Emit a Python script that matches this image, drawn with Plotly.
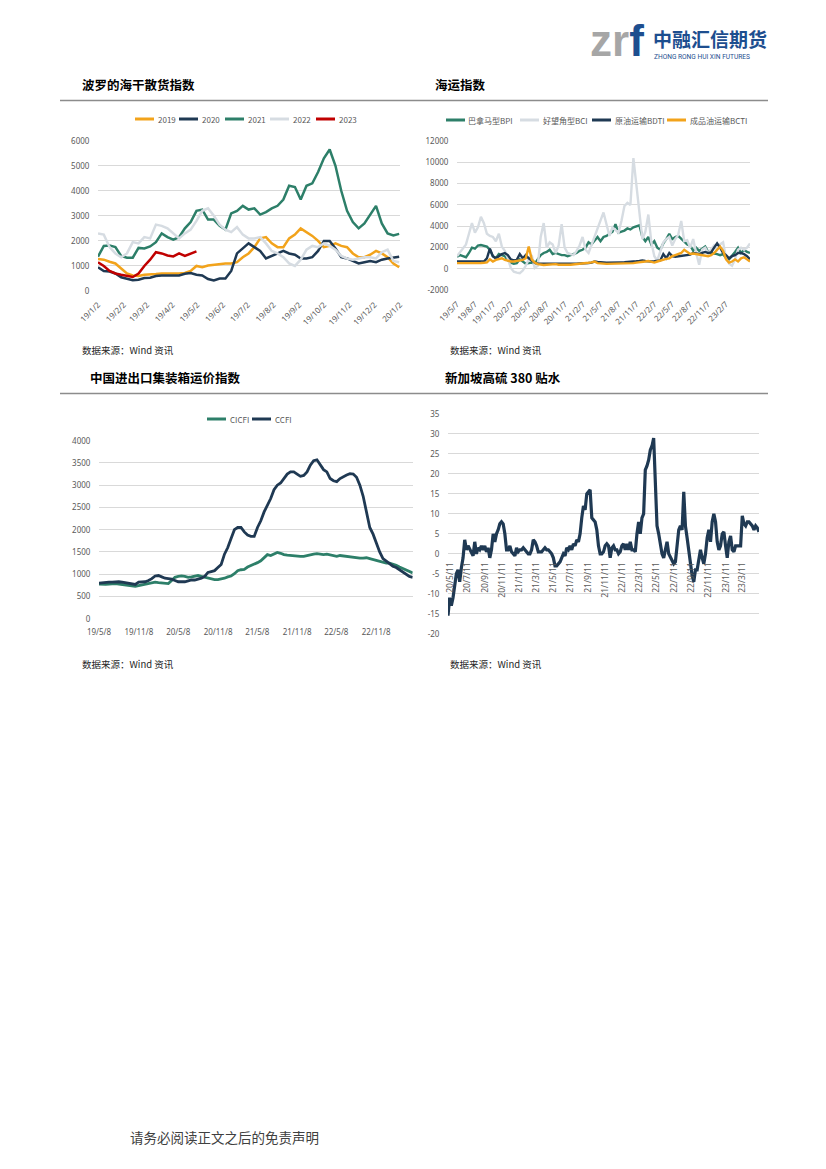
import pandas as pd
import plotly.graph_objects as go

W, H = 826, 1169

# ---------------- Chart 1: Baltic Dry Index, year overlay (weekly) ----------------
bdi_years = ["2019", "2020", "2021", "2022", "2023"]
bdi_week_start = "2019-01-02"
bdi_2019 = [1280, 1250, 1170, 1100, 900, 700, 620, 600, 650, 680, 680, 700, 700, 680, 700, 720, 800, 1000,
            950, 1020, 1050, 1080, 1100, 1100, 1150, 1350, 1500, 1750, 2100, 2150, 1900, 1750, 1750, 2100,
            2250, 2500, 2350, 2200, 2000, 1750, 1800, 1900, 1800, 1750, 1500, 1350, 1350, 1450, 1600, 1500,
            1350, 1100, 950]
bdi_2020 = [950, 800, 780, 700, 550, 480, 430, 450, 520, 530, 600, 620, 620, 600, 620, 690, 720, 650, 620,
            480, 420, 500, 500, 800, 1500, 1700, 1900, 1750, 1600, 1300, 1400, 1500, 1600, 1500, 1450, 1300,
            1300, 1350, 1600, 2000, 2000, 1700, 1350, 1300, 1200, 1100, 1150, 1200, 1150, 1250, 1300, 1350, 1370]
bdi_2021 = [1370, 1800, 1820, 1750, 1400, 1330, 1330, 1720, 1700, 1780, 1950, 2300, 2150, 2050, 2150, 2500,
            2750, 3200, 3250, 2850, 2850, 2600, 2450, 3100, 3200, 3400, 3250, 3300, 3050, 3150, 3300, 3400,
            3650, 4200, 4150, 3650, 4200, 4300, 4750, 5300, 5650, 5000, 4000, 3200, 2750, 2500, 2700, 3050,
            3400, 2700, 2300, 2220, 2280]
bdi_2022 = [2300, 2250, 1750, 1500, 1350, 1500, 1950, 1900, 2150, 2100, 2650, 2600, 2500, 2300, 2100, 2300,
            2450, 2800, 3200, 3300, 3000, 2650, 2450, 2350, 2550, 2250, 2100, 2100, 2150, 1900, 1600, 1500,
            1350, 1100, 1000, 1250, 1650, 1800, 1750, 1900, 1800, 1650, 1400, 1300, 1250, 1300, 1350, 1350,
            1300, 1550, 1650, 1200, 1150]
bdi_2023 = [1150, 1000, 800, 700, 650, 620, 560, 700, 1000, 1250, 1550, 1500, 1420, 1380, 1500, 1400, 1500, 1580]
bdi_ticks = ["19/1/2", "19/2/2", "19/3/2", "19/4/2", "19/5/2", "19/6/2", "19/7/2", "19/8/2", "19/9/2",
             "19/10/2", "19/11/2", "19/12/2", "20/1/2"]
bdi_yticks = ["0", "1000", "2000", "3000", "4000", "5000", "6000"]

# ---------------- Chart 2: Shipping indices (semi-monthly) ----------------
ship_names = ["巴拿马型BPI", "好望角型BCI", "原油运输BDTI", "成品油运输BCTI"]
ship_start = "2019-05-07"
bpi = [1150, 1300, 1200, 1100, 1500, 2000, 1900, 2200, 2250, 2200, 2100, 1800, 1200, 1000, 1400, 1300, 1200,
       800, 600, 500, 550, 900, 700, 500, 550, 600, 500, 900, 1300, 1500, 1600, 1800, 1400, 1500, 1400, 1300,
       1300, 1200, 1300, 1400, 1500, 1700, 1800, 2000, 2500, 2300, 2600, 3000, 2600, 3000, 3100, 3300, 3500,
       4200, 3400, 3500, 3600, 3800, 3700, 3900, 4000, 4100, 3000, 2600, 3000, 2300, 2600, 2000, 1800, 2400,
       2800, 3300, 2800, 3000, 3100, 2800, 2500, 2300, 2200, 1700, 2000, 1700, 1900, 2100, 1600, 1500, 1450,
       1400, 1300, 1400, 1000, 900, 1200, 1600, 2000, 1500, 1800, 1600, 1500]
bci = [1200, 1600, 1900, 2300, 3300, 4300, 3400, 3900, 4900, 4300, 3300, 3100, 3000, 2600, 3300, 2100, 1700,
       1000, 100, -250, -350, -400, -150, 300, 900, 1300, 100, 300, 3000, 4300, 2000, 2500, 2300, 1500, 2200,
       4200, 2000, 1500, 1400, 1300, 1700, 2200, 3000, 1800, 1500, 2300, 3000, 3700, 4500, 5300, 4200, 3100,
       3900, 3600, 3400, 4500, 5900, 6200, 6000, 10400, 8000, 5000, 2800, 3500, 5100, 2500, 1200, 800, 1600,
       2500, 2800, 3000, 2200, 2800, 3200, 4500, 2600, 2700, 2000, 2800, 1500, 400, 1800, 2000, 1500, 1900,
       2200, 1800, 2300, 2500, 1000, 500, 300, 900, 1800, 2000, 1800, 2000, 2400]
bdti = [700, 700, 700, 680, 650, 650, 650, 680, 700, 700, 1000, 1900, 1200, 1000, 1200, 1400, 1500, 1300, 900,
        800, 850, 1400, 1000, 1300, 1000, 800, 600, 500, 500, 480, 460, 450, 450, 440, 430, 440, 450, 450, 470,
        480, 500, 520, 520, 540, 560, 600, 700, 650, 600, 600, 580, 600, 600, 600, 610, 620, 630, 640, 650, 700,
        720, 750, 800, 750, 700, 700, 720, 750, 800, 1400, 1000, 1500, 1200, 1150, 1200, 1200, 1250, 1300, 1350,
        1500, 1450, 1400, 1500, 1600, 1500, 1550, 2000, 2400, 2000, 1500, 1300, 1000, 1200, 1300, 1500, 1500,
        1400, 1200, 900]
bcti = [550, 550, 520, 500, 500, 520, 550, 560, 560, 580, 620, 900, 700, 850, 950, 1000, 850, 750, 700, 700,
        750, 800, 850, 1000, 2100, 900, 600, 450, 400, 380, 400, 420, 480, 450, 400, 380, 380, 390, 400, 420,
        440, 460, 500, 530, 580, 620, 700, 550, 500, 500, 480, 480, 500, 500, 490, 480, 500, 500, 520, 550,
        600, 620, 650, 700, 750, 650, 600, 700, 800, 900, 950, 1000, 1200, 1300, 1400, 1500, 1800, 1600, 1400,
        1450, 1400, 1350, 1300, 1250, 1200, 1300, 1500, 1800, 2100, 1700, 900, 600, 700, 900, 700, 1000, 1100,
        900, 700]
ship_ticks = ["19/5/7", "19/8/7", "19/11/7", "20/2/7", "20/5/7", "20/8/7", "20/11/7", "21/2/7", "21/5/7",
              "21/8/7", "21/11/7", "22/2/7", "22/5/7", "22/8/7", "22/11/7", "23/2/7"]
ship_yticks = ["-2000", "0", "2000", "4000", "6000", "8000", "10000", "12000"]

# ---------------- Chart 3: China container freight indices (semi-monthly) ----------------
cont_names = ["CICFI", "CCFI"]
cont_start = "2019-05-08"
cicfi = [780, 770, 770, 780, 790, 790, 780, 770, 770, 760, 740, 730, 745, 760, 770, 780, 800, 820, 810, 800,
         790, 790, 860, 930, 950, 960, 950, 930, 940, 950, 970, 950, 930, 910, 890, 880, 880, 890, 910, 940,
         960, 1010, 1080, 1100, 1110, 1160, 1190, 1230, 1260, 1300, 1380, 1440, 1420, 1460, 1490, 1470, 1440,
         1430, 1420, 1420, 1410, 1400, 1400, 1420, 1430, 1450, 1460, 1450, 1440, 1450, 1430, 1410, 1400, 1420,
         1410, 1400, 1390, 1370, 1360, 1360, 1360, 1370, 1350, 1330, 1300, 1290, 1270, 1250, 1250, 1230, 1200,
         1160, 1130, 1100, 1060, 1030]
ccfi = [800, 810, 810, 820, 820, 830, 830, 820, 810, 800, 790, 770, 820, 830, 830, 860, 900, 960, 970, 940,
        910, 900, 890, 860, 830, 830, 830, 850, 870, 870, 890, 910, 950, 1040, 1060, 1080, 1150, 1220, 1450,
        1600, 1800, 2000, 2050, 2050, 1950, 1880, 1850, 1850, 2050, 2200, 2400, 2550, 2700, 2900, 3000, 3050,
        3150, 3250, 3300, 3300, 3250, 3200, 3220, 3300, 3450, 3550, 3570, 3450, 3350, 3300, 3150, 3100, 3080,
        3150, 3200, 3230, 3260, 3250, 3180, 3000, 2750, 2400, 2050, 1900, 1700, 1500, 1350, 1290, 1250, 1180,
        1150, 1100, 1040, 990, 950, 930]
cont_ticks = ["19/5/8", "19/11/8", "20/5/8", "20/11/8", "21/5/8", "21/11/8", "22/5/8", "22/11/8"]
cont_yticks = ["0", "500", "1000", "1500", "2000", "2500", "3000", "3500", "4000"]

# ---------------- Chart 4: Singapore HSFO 380 spread ----------------
hsfo_start = "2020-05-03"
hsfo_spread = [-15.5, -11, -13, -11, -8, -5, -4, -7, -3.5, -1,
               3.5, 1, 2, 1, 0, -0.5, 3, 0, 1.5, 1,
               2, 1, 2, 0.5, 1.5, -1, 1, 5, 3, 5,
               6, 7.5, 8, 7.5, 5, 1, 1, 2, 0.5, 0,
               -0.5, 1.5, 0.5, 1, 1, 1.5, 1, 0.5, 0, 0,
               1, 3.5, 3, 2, 0.5, 0.5, 0.5, 1, 1.5, 1,
               1, 0.5, 0, -1, -3, -3, -2.5, -2, -1, 0,
               -0.5, 1.5, 1, 2, 1, 2.5, 2, 3.5, 3, 5,
               9, 12, 11, 15, 15.5, 16, 9, 8.5, 8, 6,
               2, 0, 0, 0.5, 2, 2.5, 2, -1, 1.5, 2,
               1, 1, 0, 0.5, 2, 2.5, 1, 2.5, 1, 3,
               1, 1, 0.5, 5, 8, 5, 9, 10, 21, 22,
               23.5, 26, 27, 29, 20, 7, 5, 2, 0, -1,
               1, 3, 0, -1, -2, -2.5, -2, 3, 6, 7,
               6, 15.5, 7, 4, 1, -3, -5.5, -7, -4, -4,
               -1, 1, -1, -2.5, 0, 4, 6, 3, 8, 10,
               8, 3, 1, 2, 5, 5.5, 2, -1, 3, 4.5,
               1, 0.5, 2, 2, 2, 2, 9.5, 7.5, 7, 8,
               8, 7.5, 7, 6, 7, 6.5, 5.5]
hsfo_ticks = ["20/5/11", "20/7/11", "20/9/11", "20/11/11", "21/1/11", "21/3/11", "21/5/11", "21/7/11",
              "21/9/11", "21/11/11", "22/1/11", "22/3/11", "22/5/11", "22/7/11", "22/9/11", "22/11/11",
              "23/1/11", "23/3/11"]
hsfo_yticks = ["-20", "-15", "-10", "-5", "0", "5", "10", "15", "20", "25", "30", "35"]

# ---------------- styling ----------------
TEAL, NAVY, ORANGE, LGRAY, RED = "#2D7F69", "#1F3953", "#F2A31B", "#D6DCE2", "#C00000"
GRID = "#D9D9D9"
TICK = "#595959"
CJK = "Noto Sans CJK SC"
NUM = "Noto Sans"


def lab2date(s):
    y, m, d = s.split("/")
    return f"20{y}-{int(m):02d}-{int(d):02d}"


def pxx(x):
    return x / W


def pyy(y):
    return 1 - y / H


fig = go.Figure()

# chart 1
wk = pd.date_range(bdi_week_start, periods=53, freq="7D")
for name, vals, col in zip(bdi_years, [bdi_2019, bdi_2020, bdi_2021, bdi_2022, bdi_2023],
                           [ORANGE, NAVY, TEAL, LGRAY, RED]):
    fig.add_trace(go.Scatter(x=wk[:len(vals)], y=vals, name=name, mode="lines",
                             line=dict(color=col, width=2.5), xaxis="x", yaxis="y", showlegend=False))

# chart 2
sd = pd.date_range(ship_start, periods=len(bpi), freq="366h")
for name, vals, col in zip(ship_names, [bpi, bci, bdti, bcti], [TEAL, LGRAY, NAVY, ORANGE]):
    fig.add_trace(go.Scatter(x=sd, y=vals, name=name, mode="lines",
                             line=dict(color=col, width=2.4), xaxis="x2", yaxis="y2", showlegend=False))

# chart 3
cd = pd.date_range(cont_start, periods=len(ccfi), freq="366h")
for name, vals, col in zip(cont_names, [cicfi, ccfi], [TEAL, NAVY]):
    fig.add_trace(go.Scatter(x=cd, y=vals, name=name, mode="lines",
                             line=dict(color=col, width=2.8), xaxis="x3", yaxis="y3", showlegend=False))

# chart 4
hd = pd.date_range(hsfo_start, periods=len(hsfo_spread), freq="142h")
fig.add_trace(go.Scatter(x=hd, y=hsfo_spread, name="新加坡高硫380贴水", mode="lines",
                         line=dict(color=NAVY, width=3.2), xaxis="x4", yaxis="y4", showlegend=False))


def xax(dom, rng, ticks, angle, anchor="y", standoff=3):
    return dict(domain=[pxx(dom[0]), pxx(dom[1])], anchor=anchor, type="date", range=rng,
                tickvals=[lab2date(t) for t in ticks], ticktext=ticks, tickangle=angle,
                showgrid=False, zeroline=False, showline=False, ticks="outside", ticklen=standoff,
                tickcolor="rgba(0,0,0,0)", tickfont=dict(size=8, color=TICK, family=NUM))


def yax(dom, ticks, anchor):
    vals = [float(t) for t in ticks]
    return dict(domain=[pyy(dom[1]), pyy(dom[0])], anchor=anchor, range=[vals[0], vals[-1]],
                tickvals=vals, ticktext=ticks,
                showgrid=True, gridcolor=GRID, gridwidth=1, zeroline=False, showline=False,
                ticks="outside", ticklen=6, tickcolor="rgba(0,0,0,0)",
                tickfont=dict(size=8, color=TICK, family=NUM))


y4_dom = (414, 633.7)
zero_pos = pyy(y4_dom[1]) + (0 - (-20)) / 55 * (pyy(y4_dom[0]) - pyy(y4_dom[1]))

layout = dict(
    width=W, height=H, autosize=False, margin=dict(l=0, r=0, t=0, b=0, pad=0, autoexpand=False),
    paper_bgcolor="white", plot_bgcolor="white", showlegend=False,
    xaxis=xax((98, 400), ["2019-01-02", "2020-01-02"], bdi_ticks, -45, "y", 5),
    yaxis=yax((140.7, 291), bdi_yticks, "x"),
    xaxis2=xax((457, 750), [sd[0], sd[-1]], ship_ticks, -45, "y2", 5),
    yaxis2=yax((141, 290.3), ship_yticks, "x2"),
    xaxis3=xax((99, 412.7), [cd[0], cd[-1]], cont_ticks, 0, "y3", 6),
    yaxis3=yax((440.7, 618.7), cont_yticks, "x3"),
    xaxis4=xax((448, 759), [hd[0], hd[-1]], hsfo_ticks, -90, "free", 4),
    yaxis4=yax(y4_dom, hsfo_yticks, "x4"),
)
layout["xaxis4"]["position"] = zero_pos
layout["xaxis4"]["tickfont"] = dict(size=8.5, color=TICK, family=NUM)
fig.update_layout(**layout)

ann = []
shapes = []


def text(x, y, s, size, color="#000000", anchor="left", family=CJK):
    ann.append(dict(xref="paper", yref="paper", x=pxx(x), y=pyy(y), text=s, showarrow=False,
                    xanchor=anchor, yanchor="middle", font=dict(size=size, color=color, family=family)))


def hline(x0, x1, y, color, width):
    shapes.append(dict(type="line", xref="paper", yref="paper", x0=pxx(x0), x1=pxx(x1),
                       y0=pyy(y), y1=pyy(y), line=dict(color=color, width=width)))


# header logo
text(588, 40, "<b><span style='color:#A6A6A6'>zr</span><span style='color:#1D4E8F'>f</span></b>", 44,
     family="Liberation Sans")
text(651, 38, "<b>中融汇信期货</b>", 19, color="#1D4E8F")
text(652, 57, "ZHONG RONG HUI XIN FUTURES", 6.6, color="#1D4E8F", family="Roboto")

# section titles and rules
text(80, 85, "<b>波罗的海干散货指数</b>", 12.5)
text(433, 85, "<b>海运指数</b>", 12.5)
hline(60, 768, 100.5, "#8C8C8C", 1.3)
text(88, 377, "<b>中国进出口集装箱运价指数</b>", 12.5)
text(443, 377, "<b>新加坡高硫 380 贴水</b>", 12.5)
hline(60, 768, 393.5, "#8C8C8C", 1.3)

# sources
for sx, sy in [(80, 350), (448, 350), (80, 664), (448, 664)]:
    text(sx, sy, "数据来源：Wind 资讯", 9.5, color="#262626")

# footer
text(128, 1137, "请务必阅读正文之后的免责声明", 13.5, color="#404040")


# manual legends
def legend(items, y, size=8):
    for (x0, name, col) in items:
        hline(x0, x0 + 19, y, col, 3)
        text(x0 + 20.5, y, name, size, color=TICK, family=CJK)


legend([(135, bdi_years[0], ORANGE), (179, bdi_years[1], NAVY), (225, bdi_years[2], TEAL),
        (270, bdi_years[3], LGRAY), (316, bdi_years[4], RED)], 119)
legend([(446, ship_names[0], TEAL), (520, ship_names[1], LGRAY), (592, ship_names[2], NAVY),
        (667, ship_names[3], ORANGE)], 120)
legend([(207, cont_names[0], TEAL), (252, cont_names[1], NAVY)], 419)

fig.update_layout(annotations=ann, shapes=shapes)
fig.write_html("out.html", config={"displayModeBar": False, "staticPlot": True},
               post_script="document.body.style.margin='0';document.body.style.overflow='hidden';")
